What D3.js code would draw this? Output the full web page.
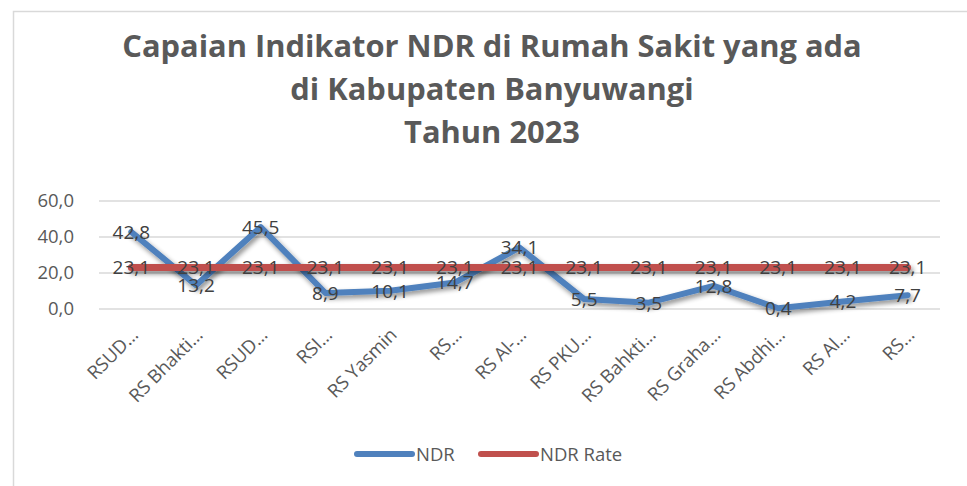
<!DOCTYPE html>
<html><head><meta charset="utf-8">
<script src="https://cdn.jsdelivr.net/npm/d3@7"></script>
<style>body{margin:0;background:#fff;} svg{display:block;}</style>
</head><body>
<svg id="c" width="967" height="486"></svg>
<script>
const categories = ["RSUD…","RS Bhakti…","RSUD…","RSI…","RS Yasmin","RS…","RS Al-…","RS PKU…","RS Bahkti…","RS Graha…","RS Abdhi…","RS Al…","RS…"];
const ndr = [42.8,13.2,45.5,8.9,10.1,14.7,34.1,5.5,3.5,12.8,0.4,4.2,7.7];
const ndrRate = [23.1,23.1,23.1,23.1,23.1,23.1,23.1,23.1,23.1,23.1,23.1,23.1,23.1];
const yTicks = [0,20,40,60];
const titleLines = ["Capaian Indikator NDR di Rumah Sakit yang ada","di Kabupaten Banyuwangi","Tahun 2023"];
const seriesNames = ["NDR","NDR Rate"];
const colors = ["#4F81BD","#C0504D"];

const svg = d3.select("#c");
const font = "'Open Sans', sans-serif";
const fmt = v => d3.format(".1f")(v).replace(".", ",");

// drop shadow filter (user space so flat lines keep rendering)
const defs = svg.append("defs");
const f = defs.append("filter").attr("id","sh").attr("filterUnits","userSpaceOnUse")
  .attr("x",0).attr("y",0).attr("width",967).attr("height",486);
f.append("feGaussianBlur").attr("in","SourceAlpha").attr("stdDeviation",2.5).attr("result","b");
f.append("feOffset").attr("in","b").attr("dx",2).attr("dy",3).attr("result","o");
f.append("feComponentTransfer").attr("in","o").attr("result","o2").append("feFuncA").attr("type","linear").attr("slope",0.45);
const fm = f.append("feMerge");
fm.append("feMergeNode").attr("in","o2");
fm.append("feMergeNode").attr("in","SourceGraphic");

// border
svg.append("rect").attr("x",13.5).attr("y",11.5).attr("width",1000).attr("height",1000)
  .attr("fill","none").attr("stroke","#d9d9d9").attr("stroke-width",1.5);

// title
const title = svg.append("g");
titleLines.forEach((t,i)=>{
  title.append("text").attr("x",0).attr("y",57+i*43).attr("text-anchor","middle")
    .attr("font-family",font).attr("font-weight",700).attr("font-size",31)
    .attr("fill","#595959").text(t);
});
const w0 = title.select("text").node().getComputedTextLength();
title.attr("transform",`translate(492,0) scale(${740/w0},1)`);

const x = d3.scaleBand().domain(d3.range(categories.length)).range([99,940]);
const y = d3.scaleLinear().domain([0,60]).range([309,201]);
const cx = i => x(i)+x.bandwidth()/2;

// grid
svg.append("g").selectAll("line").data(yTicks).join("line")
  .attr("x1",99).attr("x2",940).attr("y1",d=>y(d)).attr("y2",d=>y(d))
  .attr("stroke","#d9d9d9").attr("stroke-width",1.3);

// y axis labels
const yAxis = svg.append("g").attr("transform","translate(74,0)")
  .call(d3.axisLeft(y).tickValues(yTicks).tickFormat(fmt).tickSize(0).tickPadding(0));
yAxis.select(".domain").remove();
yAxis.selectAll("text").attr("font-family",font).attr("font-size",18.5).attr("fill","#595959");

// x axis labels
const xAxis = svg.append("g").attr("transform","translate(0,309)")
  .call(d3.axisBottom(x).tickFormat(i=>categories[i]).tickSize(0).tickPadding(0));
xAxis.select(".domain").remove();
xAxis.selectAll("text").attr("font-family",font).attr("font-size",18.5).attr("fill","#595959")
  .attr("text-anchor","end").attr("dy",0)
  .attr("transform","translate(8,27) rotate(-45)");

// lines
const line = d3.line().x((d,i)=>cx(i)).y(d=>y(d));
svg.append("path").datum(ndr).attr("d",line).attr("fill","none").attr("stroke",colors[0])
  .attr("stroke-width",6).attr("stroke-linejoin","round").attr("stroke-linecap","round").attr("filter","url(#sh)");
svg.append("path").datum(ndrRate).attr("d",line).attr("fill","none").attr("stroke",colors[1])
  .attr("stroke-width",7).attr("stroke-linecap","round").attr("filter","url(#sh)");

// data labels
function labels(data){
  svg.append("g").selectAll("text").data(data).join("text")
    .attr("x",(d,i)=>cx(i)).attr("y",d=>y(d)).attr("dy","0.36em")
    .attr("text-anchor","middle").attr("font-family",font).attr("font-size",19)
    .attr("fill","#404040").text(fmt);
}
labels(ndr);
labels(ndrRate);

// legend
const lg = svg.append("g");
const items = [{x:357,name:seriesNames[0],c:colors[0]},{x:481,name:seriesNames[1],c:colors[1]}];
items.forEach(it=>{
  lg.append("line").attr("x1",it.x).attr("x2",it.x+55).attr("y1",454).attr("y2",454)
    .attr("stroke",it.c).attr("stroke-width",6).attr("stroke-linecap","round");
  lg.append("text").attr("x",it.x+59).attr("y",454).attr("dy","0.36em")
    .attr("font-family",font).attr("font-size",18.5).attr("fill","#595959").text(it.name);
});
</script>
</body></html>
